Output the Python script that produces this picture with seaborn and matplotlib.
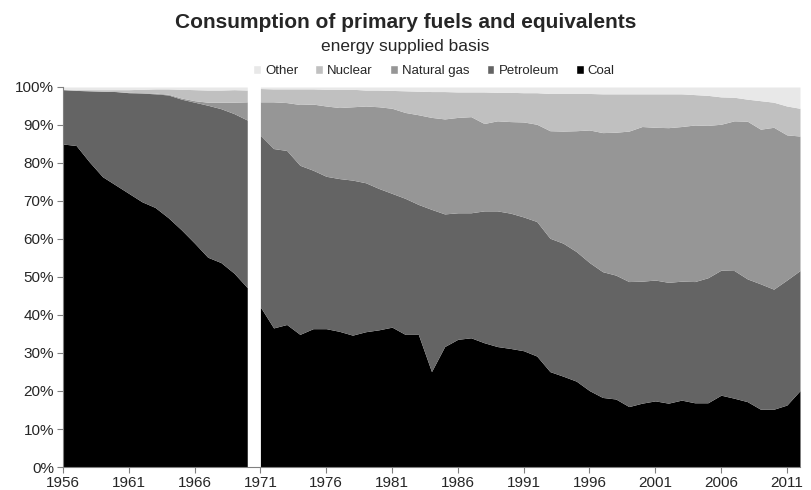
import numpy as np
import pandas as pd
import seaborn as sns
import matplotlib.pyplot as plt
from matplotlib.patches import Patch
from matplotlib.ticker import PercentFormatter

# shares of primary fuel consumption (%)
# two periods, with a break between 1970 and 1971
years_a = list(range(1956, 1971))
coal_a = [85.0, 84.6, 80.3, 76.4, 74.2, 72.0, 69.8, 68.3, 65.6, 62.4, 58.9, 55.2, 53.8, 51.0, 47.2]
petroleum_a = [14.3, 14.5, 18.7, 22.5, 24.6, 26.5, 28.6, 29.9, 32.3, 34.4, 37.1, 40.0, 40.5, 42.0, 44.1]
gas_a = [0.0, 0.0, 0.0, 0.0, 0.0, 0.1, 0.1, 0.2, 0.2, 0.3, 0.4, 0.8, 1.7, 3.0, 4.8]
nuclear_a = [0.1, 0.2, 0.3, 0.4, 0.5, 0.7, 0.9, 1.1, 1.4, 2.3, 2.9, 3.2, 3.2, 3.3, 3.1]
other_a = [0.6, 0.7, 0.7, 0.7, 0.7, 0.7, 0.6, 0.5, 0.5, 0.6, 0.7, 0.8, 0.8, 0.7, 0.8]

years_b = list(range(1971, 2013))
coal_b = [42.1, 36.6, 37.5, 34.9, 36.4, 36.4, 35.7, 34.7, 35.6, 36.1,
          36.8, 34.9, 34.9, 25.1, 31.7, 33.6, 34.0, 32.7, 31.7, 31.2,
          30.6, 29.2, 25.1, 23.9, 22.6, 20.1, 18.3, 17.9, 15.9, 16.8,
          17.4, 16.8, 17.6, 16.9, 16.9, 18.9, 18.1, 17.2, 15.2, 15.2,
          16.3, 20.1]
petroleum_b = [45.2, 47.2, 45.8, 44.5, 41.7, 40.1, 40.2, 40.8, 39.2, 37.2,
               35.2, 35.8, 34.2, 42.7, 34.9, 33.3, 32.9, 34.7, 35.7, 35.6,
               35.2, 35.4, 35.1, 35.0, 34.1, 33.7, 33.1, 32.6, 32.9, 32.1,
               31.8, 31.8, 31.3, 31.9, 32.9, 32.9, 33.6, 32.3, 33.0, 31.6,
               32.9, 31.6]
gas_b = [8.8, 12.3, 12.6, 16.0, 17.4, 18.5, 18.7, 19.3, 20.2, 21.5,
         22.4, 22.6, 23.6, 24.2, 25.0, 25.1, 25.3, 23.0, 23.7, 24.1,
         25.0, 25.6, 28.3, 29.5, 31.8, 34.9, 36.6, 37.6, 39.6, 40.7,
         40.2, 40.7, 40.7, 41.2, 40.1, 38.4, 39.4, 41.5, 40.7, 42.6,
         38.2, 35.4]
nuclear_b = [3.5, 3.4, 3.6, 4.1, 4.0, 4.4, 4.8, 4.6, 4.2, 4.4,
             4.7, 5.7, 6.2, 6.8, 7.2, 6.7, 6.5, 8.3, 7.5, 7.7,
             7.7, 8.3, 9.8, 9.9, 9.8, 9.6, 10.2, 10.1, 9.8, 8.6,
             8.8, 8.9, 8.6, 8.0, 7.9, 7.2, 6.2, 5.8, 7.5, 6.6,
             7.6, 7.3]
other_b = [0.4, 0.5, 0.5, 0.5, 0.5, 0.6, 0.6, 0.6, 0.8, 0.8,
           0.9, 1.0, 1.1, 1.2, 1.2, 1.3, 1.3, 1.3, 1.4, 1.4,
           1.5, 1.5, 1.7, 1.7, 1.7, 1.7, 1.8, 1.8, 1.8, 1.8,
           1.8, 1.8, 1.8, 2.0, 2.2, 2.6, 2.7, 3.2, 3.6, 4.0,
           5.0, 5.6]

fuels = ["Coal", "Petroleum", "Natural gas", "Nuclear", "Other"]
colors = ["#000000", "#646464", "#969696", "#c0c0c0", "#e8e8e8"]

df_a = pd.DataFrame({"Coal": coal_a, "Petroleum": petroleum_a, "Natural gas": gas_a,
                     "Nuclear": nuclear_a, "Other": other_a}, index=years_a)
df_b = pd.DataFrame({"Coal": coal_b, "Petroleum": petroleum_b, "Natural gas": gas_b,
                     "Nuclear": nuclear_b, "Other": other_b}, index=years_b)

sns.set_style("white")
plt.rcParams["font.family"] = ["Liberation Sans", "DejaVu Sans"]

fig = plt.figure(figsize=(8.11, 4.90), dpi=100)
ax = fig.add_axes([63 / 811, 1 - 467 / 490, (800 - 63) / 811, (467 - 87) / 490])

for df in (df_a, df_b):
    ax.stackplot(df.index, [df[f] for f in fuels], colors=colors, linewidth=0)

ax.set_xlim(1956, 2012)
ax.set_ylim(0, 100)
ax.set_xticks(range(1956, 2012, 5))
ax.set_yticks(range(0, 101, 10))
ax.yaxis.set_major_formatter(PercentFormatter(decimals=0))
ax.tick_params(axis="both", labelsize=11, length=4, width=0.8, color="#808080",
               direction="out", left=True, bottom=True, pad=2.5)
sns.despine(ax=ax)
for side in ("left", "bottom"):
    ax.spines[side].set_color("#808080")
    ax.spines[side].set_linewidth(0.8)

fig.text(0.5, 1 - 22 / 490, "Consumption of primary fuels and equivalents",
         ha="center", va="center", fontsize=15, fontweight="bold")
fig.text(0.5, 1 - 47 / 490, "energy supplied basis", ha="center", va="center", fontsize=12.5)

handles = [Patch(facecolor=c, label=f) for f, c in zip(fuels[::-1], colors[::-1])]
fig.legend(handles=handles, loc="center", bbox_to_anchor=(434 / 811, 1 - 71 / 490), ncol=5,
           frameon=False, fontsize=9.5, handlelength=0.6, handleheight=0.6,
           handletextpad=0.3, columnspacing=1.3, borderpad=0)

plt.savefig("out.png", dpi=100)
